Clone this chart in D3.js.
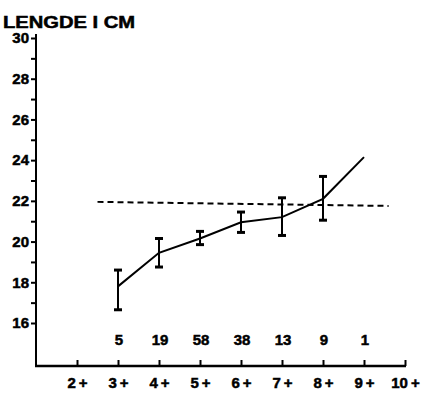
<!DOCTYPE html>
<html>
<head>
<meta charset="utf-8">
<script src="https://cdn.jsdelivr.net/npm/d3@7"></script>
<style>
body { margin: 0; background: #fff; }
text { font-family: "Liberation Sans", Arial, sans-serif; font-weight: bold; fill: #000; stroke: #000; stroke-width: 0.5px; }
</style>
</head>
<body>
<script>
width = 423
height = 393

// alder (age class) and mean length with range
ages = [3, 4, 5, 6, 7, 8, 9]
means = [17.8, 19.45, 20.15, 20.95, 21.2, 22.1, 24.15]
lows = [16.65, 18.75, 19.85, 20.45, 20.3, 21.05, null]
highs = [18.6, 20.15, 20.5, 21.45, 22.15, 23.2, null]
counts = ["5", "19", "58", "38", "13", "9", "1"]
dashX = [2.5, 9.6]
dashY = [21.95, 21.75]
xTicks = [2, 3, 4, 5, 6, 7, 8, 9, 10]

x = d3.scaleLinear().domain([1, 10]).range([36, 405])
y = d3.scaleLinear().domain([16, 30]).range([323, 38])

svg = d3.select("body")
    .append("svg")
    .attr("width", width)
    .attr("height", height)

// title
svg.append("text")
    .attr("x", 3)
    .attr("y", 28)
    .attr("font-size", 16)
    .attr("textLength", 132)
    .attr("lengthAdjust", "spacingAndGlyphs")
    .text("LENGDE I CM")

// y axis
yAxis = d3.axisLeft(y)
    .tickValues(d3.range(16, 31))
    .tickSize(5)
    .tickPadding(2)
    .tickFormat(function(d) { return d % 2 == 0 ? d : ""; })
gy = svg.append("g")
    .attr("transform", "translate(36,0)")
    .call(yAxis)
gy.select(".domain").remove()
gy.selectAll("line").attr("stroke", "#000").attr("stroke-width", 2)
gy.selectAll("text").attr("font-size", 15).attr("font-family", "Liberation Sans, Arial").attr("font-weight", "bold")
svg.append("line")
    .attr("x1", 36).attr("x2", 36)
    .attr("y1", 34).attr("y2", 367)
    .attr("stroke", "#000").attr("stroke-width", 2)

// x axis
xAxis = d3.axisBottom(x)
    .tickValues(xTicks)
    .tickSize(-6)
    .tickPadding(11)
    .tickFormat(function(d) { return d + "\u2009+"; })
gx = svg.append("g")
    .attr("transform", "translate(0,366)")
    .call(xAxis)
gx.select(".domain").remove()
gx.selectAll("line").attr("stroke", "#000").attr("stroke-width", 2)
gx.selectAll("text").attr("font-size", 15).attr("font-family", "Liberation Sans, Arial").attr("font-weight", "bold")
svg.append("line")
    .attr("x1", 35).attr("x2", 406)
    .attr("y1", 366).attr("y2", 366)
    .attr("stroke", "#000").attr("stroke-width", 2.5)

// horizontal dashed reference line
svg.append("line")
    .attr("x1", x(dashX[0])).attr("x2", x(dashX[1]))
    .attr("y1", y(dashY[0])).attr("y2", y(dashY[1]))
    .attr("stroke", "#000")
    .attr("stroke-width", 2)
    .attr("stroke-dasharray", "6,4")

// mean line
line = d3.line()
    .x(function(d, i) { return x(ages[i]); })
    .y(function(d) { return y(d); })
svg.append("path")
    .datum(means)
    .attr("d", line)
    .attr("fill", "none")
    .attr("stroke", "#000")
    .attr("stroke-width", 2)

// range bars
bars = ages.map(function(a, i) { return {a: a, lo: lows[i], hi: highs[i]}; })
    .filter(function(d) { return d.lo != null; })
eb = svg.selectAll("g.eb")
    .data(bars)
    .enter()
    .append("g")
    .attr("class", "eb")
eb.append("line")
    .attr("x1", function(d) { return x(d.a); })
    .attr("x2", function(d) { return x(d.a); })
    .attr("y1", function(d) { return y(d.lo); })
    .attr("y2", function(d) { return y(d.hi); })
    .attr("stroke", "#000").attr("stroke-width", 2)
eb.append("line")
    .attr("x1", function(d) { return x(d.a) - 4; })
    .attr("x2", function(d) { return x(d.a) + 4; })
    .attr("y1", function(d) { return y(d.hi); })
    .attr("y2", function(d) { return y(d.hi); })
    .attr("stroke", "#000").attr("stroke-width", 3)
eb.append("line")
    .attr("x1", function(d) { return x(d.a) - 4; })
    .attr("x2", function(d) { return x(d.a) + 4; })
    .attr("y1", function(d) { return y(d.lo); })
    .attr("y2", function(d) { return y(d.lo); })
    .attr("stroke", "#000").attr("stroke-width", 3)

// sample sizes
svg.selectAll("text.n")
    .data(counts)
    .enter()
    .append("text")
    .attr("class", "n")
    .attr("x", function(d, i) { return x(ages[i]) + 1; })
    .attr("y", 345)
    .attr("text-anchor", "middle")
    .attr("font-size", 15)
    .text(function(d) { return d; })
</script>
</body>
</html>
